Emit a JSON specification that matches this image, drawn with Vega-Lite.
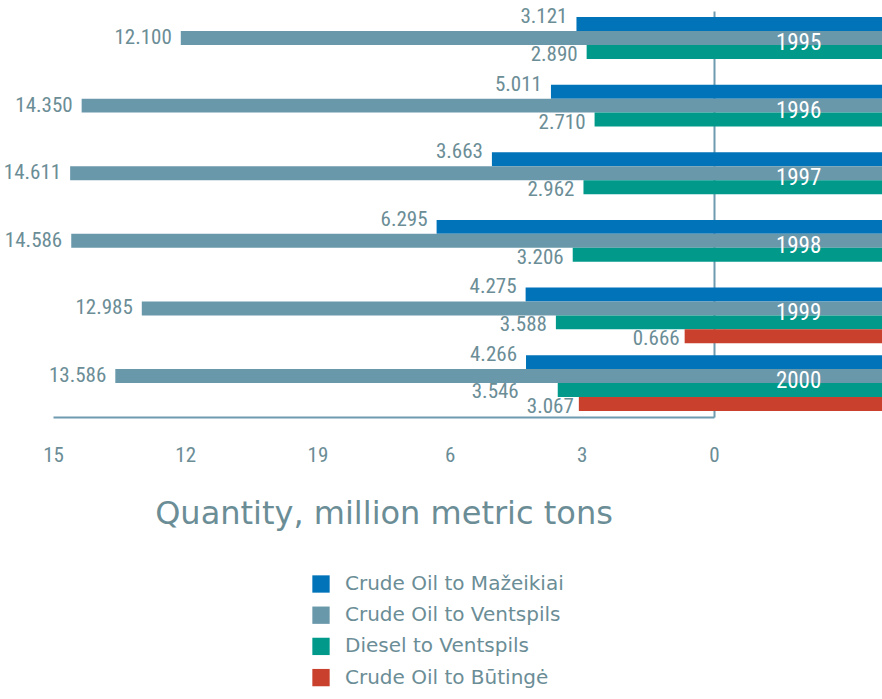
{
  "$schema": "https://vega.github.io/schema/vega-lite/v6.json",
  "width": 661,
  "height": 406,
  "autosize": {"type": "none"},
  "padding": {"left": 53, "top": 11, "right": 168, "bottom": 282},
  "background": "white",
  "config": {"view": {"stroke": null}, "font": "Roboto Condensed, DejaVu Sans Condensed, Liberation Sans, sans-serif"},
  "data": {
    "values": [
      {"year": "1995", "series": "Crude Oil to Mažeikiai", "value": 3.121, "label": "3.121"},
      {"year": "1995", "series": "Crude Oil to Ventspils", "value": 12.1, "label": "12.100"},
      {"year": "1995", "series": "Diesel to Ventspils", "value": 2.89, "label": "2.890"},
      {"year": "1996", "series": "Crude Oil to Mažeikiai", "value": 3.7, "label": "5.011"},
      {"year": "1996", "series": "Crude Oil to Ventspils", "value": 14.35, "label": "14.350"},
      {"year": "1996", "series": "Diesel to Ventspils", "value": 2.71, "label": "2.710"},
      {"year": "1997", "series": "Crude Oil to Mažeikiai", "value": 5.04, "label": "3.663"},
      {"year": "1997", "series": "Crude Oil to Ventspils", "value": 14.611, "label": "14.611"},
      {"year": "1997", "series": "Diesel to Ventspils", "value": 2.962, "label": "2.962"},
      {"year": "1998", "series": "Crude Oil to Mažeikiai", "value": 6.295, "label": "6.295"},
      {"year": "1998", "series": "Crude Oil to Ventspils", "value": 14.586, "label": "14.586"},
      {"year": "1998", "series": "Diesel to Ventspils", "value": 3.206, "label": "3.206"},
      {"year": "1999", "series": "Crude Oil to Mažeikiai", "value": 4.275, "label": "4.275"},
      {"year": "1999", "series": "Crude Oil to Ventspils", "value": 12.985, "label": "12.985"},
      {"year": "1999", "series": "Diesel to Ventspils", "value": 3.588, "label": "3.588"},
      {"year": "1999", "series": "Crude Oil to Būtingė", "value": 0.666, "label": "0.666"},
      {"year": "2000", "series": "Crude Oil to Mažeikiai", "value": 4.266, "label": "4.266"},
      {"year": "2000", "series": "Crude Oil to Ventspils", "value": 13.586, "label": "13.586"},
      {"year": "2000", "series": "Diesel to Ventspils", "value": 3.546, "label": "3.546"},
      {"year": "2000", "series": "Crude Oil to Būtingė", "value": 3.067, "label": "3.067"}
    ]
  },
  "encoding": {
    "y": {
      "field": "year",
      "type": "nominal",
      "sort": "ascending",
      "scale": {"paddingInner": 0.175, "paddingOuter": 0.09},
      "axis": {"orient": "right", "domain": true, "domainColor": "#6f9bb0", "domainWidth": 2, "ticks": false, "labels": false, "grid": false, "title": null}
    }
  },
  "layer": [
    {
      "mark": {"type": "bar"},
      "encoding": {
        "x": {
          "field": "value",
          "type": "quantitative",
          "scale": {"domain": [0, 15], "reverse": true, "nice": false, "zero": true},
          "axis": {
            "values": [0, 3, 6, 9, 12, 15],
            "labelExpr": "datum.value == 9 ? '19' : datum.label",
            "format": "d",
            "ticks": false,
            "grid": false,
            "domainColor": "#6f9bb0",
            "domainWidth": 2,
            "labelFontSize": 21,
            "labelColor": "#6b8d96",
            "labelPadding": 27,
            "labelFlush": false,
            "title": "Quantity, million metric tons",
            "titleFont": "DejaVu Sans",
            "titleFontSize": 32,
            "titleFontWeight": "normal",
            "titleColor": "#6b8d96",
            "titlePadding": 33
          }
        },
        "x2": {"datum": -3.82},
        "yOffset": {
          "field": "series",
          "type": "nominal",
          "scale": {"domain": ["Crude Oil to Mažeikiai", "Crude Oil to Ventspils", "Diesel to Ventspils", "Crude Oil to Būtingė"], "paddingInner": 0, "paddingOuter": 0}
        },
        "color": {
          "field": "series",
          "type": "nominal",
          "scale": {
            "domain": ["Crude Oil to Mažeikiai", "Crude Oil to Ventspils", "Diesel to Ventspils", "Crude Oil to Būtingė"],
            "range": ["#0073b9", "#6a98ab", "#00998a", "#c9412c"]
          },
          "legend": {
            "title": null,
            "orient": "none",
            "legendX": 258,
            "legendY": 563,
            "symbolType": "square",
            "symbolSize": 300,
            "symbolStrokeWidth": 0,
            "symbolOpacity": 1,
            "labelFont": "DejaVu Sans",
            "labelFontSize": 20,
            "labelColor": "#6b8d96",
            "labelOffset": 14,
            "labelLimit": 400,
            "rowPadding": 11.2,
            "padding": 0
          }
        }
      }
    },
    {
      "transform": [{"filter": "datum.series == 'Crude Oil to Mažeikiai'"}],
      "mark": {"type": "text", "align": "right", "baseline": "middle", "dx": -9, "dy": -7, "fontSize": 21, "color": "#6b8d96"},
      "encoding": {
        "x": {"field": "value", "type": "quantitative"},
        "yOffset": {"field": "series", "type": "nominal"},
        "text": {"field": "label"}
      }
    },
    {
      "transform": [{"filter": "datum.series == 'Crude Oil to Ventspils'"}],
      "mark": {"type": "text", "align": "right", "baseline": "middle", "dx": -9, "dy": 0, "fontSize": 21, "color": "#6b8d96"},
      "encoding": {
        "x": {"field": "value", "type": "quantitative"},
        "yOffset": {"field": "series", "type": "nominal"},
        "text": {"field": "label"}
      }
    },
    {
      "transform": [{"filter": "datum.series == 'Diesel to Ventspils' && datum.year != '2000'"}],
      "mark": {"type": "text", "align": "right", "baseline": "middle", "dx": -9, "dy": 3, "fontSize": 21, "color": "#6b8d96"},
      "encoding": {
        "x": {"field": "value", "type": "quantitative"},
        "yOffset": {"field": "series", "type": "nominal"},
        "text": {"field": "label"}
      }
    },
    {
      "transform": [{"filter": "datum.series == 'Diesel to Ventspils' && datum.year == '2000'"}],
      "mark": {"type": "text", "align": "right", "baseline": "middle", "dx": -39, "dy": 2, "fontSize": 21, "color": "#6b8d96"},
      "encoding": {
        "x": {"field": "value", "type": "quantitative"},
        "yOffset": {"field": "series", "type": "nominal"},
        "text": {"field": "label"}
      }
    },
    {
      "transform": [{"filter": "datum.series == 'Crude Oil to Būtingė'"}],
      "mark": {"type": "text", "align": "right", "baseline": "middle", "dx": -5, "dy": 3, "fontSize": 21, "color": "#6b8d96"},
      "encoding": {
        "x": {"field": "value", "type": "quantitative"},
        "yOffset": {"field": "series", "type": "nominal"},
        "text": {"field": "label"}
      }
    },
    {
      "transform": [{"filter": "datum.series == 'Crude Oil to Ventspils'"}],
      "mark": {"type": "text", "align": "center", "baseline": "middle", "dy": -2, "fontSize": 23, "color": "white"},
      "encoding": {
        "x": {"datum": -1.92},
        "text": {"field": "year"}
      }
    }
  ]
}
